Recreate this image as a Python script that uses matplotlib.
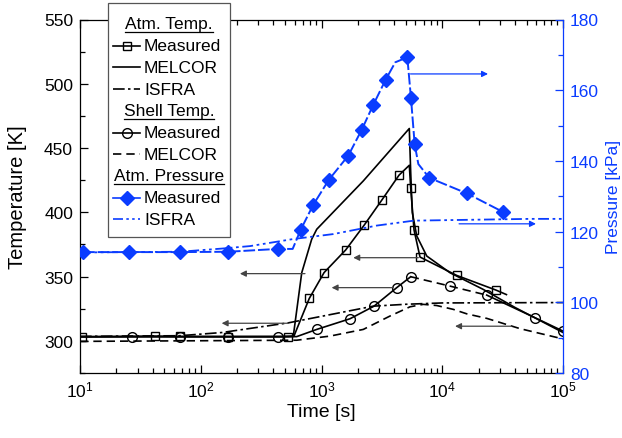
import matplotlib
matplotlib.use("Agg")
import matplotlib.pyplot as plt
from matplotlib.lines import Line2D
from matplotlib.patches import Rectangle
from matplotlib.ticker import MultipleLocator, LogLocator, NullFormatter

plt.rcParams['font.family'] = ['Liberation Sans', 'DejaVu Sans']
plt.rcParams['mathtext.fontset'] = 'custom'
plt.rcParams['mathtext.rm'] = 'Liberation Sans'
plt.rcParams['mathtext.it'] = 'Liberation Sans:italic'
plt.rcParams['font.size'] = 12.5

BLUE = '#0a3cff'
ARROW_GREY = '#444444'

# atmosphere temperature, measured (squares)
atm_meas_t = [10.3, 41.8, 67, 169, 531, 590, 792, 1050, 1585, 2260, 3152, 4385,
              5337, 5480, 5840, 6545, 13180, 27860, 34000]
atm_meas_T = [303.2, 303.7, 303.4, 303.3, 303.3, 303.5, 333.0, 353.1, 370.7, 390.1,
              409.4, 428.9, 436.6, 418.7, 386.2, 365.2, 350.9, 339.5, 336.0]
atm_meas_marks = [0, 1, 2, 3, 4, 6, 7, 8, 9, 10, 11, 13, 14, 15, 16, 17]

# atmosphere temperature, MELCOR
atm_mel_t = [10, 453, 584, 686, 829, 913, 2218, 5335, 5480, 5650, 6150, 7440,
             11590, 21880, 40000, 100000]
atm_mel_T = [303.2, 303.4, 303.7, 353.0, 379.0, 386.8, 424.4, 465.2, 431.0, 399.8,
             381.6, 366.0, 353.0, 340.0, 326.0, 306.5]

# atmosphere temperature, ISFRA
atm_isf_t = [10, 67, 150, 531, 623, 2687, 5080, 10000, 100000]
atm_isf_T = [303.5, 304.0, 306.5, 314.0, 315.3, 327.0, 328.5, 329.5, 329.8]

# shell temperature, measured (circles)
shell_meas_t = [10, 26.8, 67.3, 169, 438, 623, 913, 1722, 2723, 4198, 5480,
                11590, 23360, 58610, 100000]
shell_meas_T = [303.2, 303.2, 303.2, 303.2, 303.2, 303.3, 308.9, 317.2, 327.0,
                341.4, 349.9, 342.6, 335.6, 318.0, 307.6]

# shell temperature, MELCOR
shell_mel_t = [10, 623, 1175, 2218, 3690, 5407, 6970, 8990, 12340, 16000, 23360,
               44050, 100000]
shell_mel_T = [299.6, 300.5, 303.7, 308.9, 319.3, 326.5, 328.4, 327.5, 324.5,
               321.0, 317.5, 309.5, 301.5]

# atmosphere pressure, measured (diamonds)
p_meas_t = [10.6, 25.5, 67, 169, 434, 577, 672, 855, 1153, 1667, 2153, 2687, 3402,
            4085, 5137, 5510, 5910, 6340, 7810, 16030, 31680]
p_meas_P = [114.2, 114.2, 114.2, 114.3, 115.1, 115.1, 120.5, 127.6, 134.7, 141.5,
            148.8, 155.9, 163.0, 167.9, 169.3, 157.7, 144.7, 139.1, 135.2, 130.8, 125.6]
p_meas_marks = [0, 1, 2, 3, 4, 6, 7, 8, 9, 10, 11, 12, 14, 15, 16, 18, 19, 20]

# atmosphere pressure, ISFRA
p_isf_t = [10, 67, 150, 256, 584, 1253, 2866, 5820, 53300, 100000]
p_isf_P = [114.1, 114.3, 115.2, 115.9, 117.9, 119.3, 121.7, 123.1, 123.6, 123.6]

# arrows: (tail time, head time, value)
temp_arrows = [(6340, 1833, 364.7), (3937, 1213, 341.4), (37580, 12770, 311.4),
               (730, 211, 352.3), (531, 149, 313.7)]
press_arrows = [(5460, 23930, 164.6), (13780, 59700, 122.2)]

W, H = 622, 439
fig = plt.figure(figsize=(W / 100, H / 100), dpi=100)
ax = fig.add_axes([80 / W, 1 - 374 / H, 483 / W, 353.5 / H])
ax2 = ax.twinx()

lw = 1.2
sq = dict(marker='s', markersize=5.5, markerfacecolor='none', markeredgecolor='k',
          markeredgewidth=1.0)
ci = dict(marker='o', markersize=7, markerfacecolor='none', markeredgecolor='k',
          markeredgewidth=1.0)
dm = dict(marker='D', markersize=7.2, markerfacecolor=BLUE, markeredgecolor=BLUE)

ax.plot(atm_meas_t, atm_meas_T, color='k', lw=lw, markevery=atm_meas_marks, **sq)
ax.plot(atm_mel_t, atm_mel_T, color='k', lw=lw)
ax.plot(atm_isf_t, atm_isf_T, color='k', lw=lw, ls=(0, (7, 2, 1.5, 2)))
# shell measured: solid, dashed part after the peak
ax.plot(shell_meas_t[:11], shell_meas_T[:11], color='k', lw=lw,
        markevery=list(range(1, 5)) + list(range(6, 11)), **ci)
ax.plot(shell_meas_t[10:13], shell_meas_T[10:13], color='k', lw=lw, ls=(0, (5, 3)),
        markevery=[1, 2], **ci)
ax.plot(shell_meas_t[12:], shell_meas_T[12:], color='k', lw=lw, markevery=[1, 2], **ci)
ax.plot(shell_mel_t, shell_mel_T, color='k', lw=lw, ls=(0, (5, 3)))

for t0, t1, v in temp_arrows:
    ax.annotate('', xy=(t1, v), xytext=(t0, v),
                arrowprops=dict(arrowstyle='-|>', color=ARROW_GREY, lw=0.9,
                                mutation_scale=9, shrinkA=0, shrinkB=0))

ax2.plot(p_meas_t, p_meas_P, color=BLUE, lw=1.4, ls=(0, (6, 1.5)),
         markevery=p_meas_marks, **dm)
ax2.plot(p_isf_t, p_isf_P, color=BLUE, lw=1.3, ls=(0, (6, 2, 1.5, 2, 1.5, 2)))
for t0, t1, v in press_arrows:
    ax2.annotate('', xy=(t1, v), xytext=(t0, v),
                 arrowprops=dict(arrowstyle='-|>', color=BLUE, lw=0.9,
                                 mutation_scale=9, shrinkA=0, shrinkB=0))

ax.set_xscale('log')
ax.set_xlim(10, 1e5)
ax.set_ylim(275, 550)
ax2.set_ylim(80, 180)
ax.xaxis.set_major_locator(LogLocator(base=10, numticks=10))
ax.xaxis.set_minor_locator(LogLocator(base=10, subs=range(2, 10), numticks=20))
ax.xaxis.set_minor_formatter(NullFormatter())
ax.yaxis.set_major_locator(MultipleLocator(50))
ax.yaxis.set_minor_locator(MultipleLocator(25))
ax2.yaxis.set_major_locator(MultipleLocator(20))
ax2.yaxis.set_minor_locator(MultipleLocator(10))

ax.tick_params(which='both', direction='in', top=True, right=False, width=0.9)
ax.tick_params(which='major', length=6, pad=5)
ax.tick_params(which='minor', length=3.5)
ax2.tick_params(which='both', direction='in', colors=BLUE, width=0.9)
ax2.tick_params(which='major', length=6, pad=5)
ax2.tick_params(which='minor', length=3.5)
ax.spines['right'].set_visible(False)
ax2.spines['right'].set_color(BLUE)
ax2.spines['left'].set_visible(False)
ax2.spines['top'].set_visible(False)
ax2.spines['bottom'].set_visible(False)
for s in ['left', 'top', 'bottom']:
    ax.spines[s].set_linewidth(0.9)
ax2.spines['right'].set_linewidth(0.9)

ax.set_xlabel('Time [s]', fontsize=14)
ax.set_ylabel('Temperature [K]', fontsize=14.5)
ax2.set_ylabel('Pressure [kPa]', fontsize=12.5, color=BLUE)
ax.xaxis.set_label_coords(0.5, -0.085)
ax.yaxis.set_label_coords(-0.11, 0.5)
ax2.yaxis.set_label_coords(1.09, 0.5)


# legend drawn by hand (headers are underlined)
def fx(px):
    return px / W


def fy(py):
    return 1 - py / H


fig.add_artist(Rectangle((fx(108), fy(238)), fx(230) - fx(108), fy(4) - fy(238),
                         transform=fig.transFigure, facecolor='white',
                         edgecolor='#555555', lw=0.9, zorder=5))

rows = [
    ('Atm. Temp.', None),
    ('Measured', dict(color='k', ls='-', **sq)),
    ('MELCOR', dict(color='k', ls='-')),
    ('ISFRA', dict(color='k', ls=(0, (7, 2, 1.5, 2)))),
    ('Shell Temp.', None),
    ('Measured', dict(color='k', ls='-', **ci)),
    ('MELCOR', dict(color='k', ls=(0, (5, 3)))),
    ('Atm. Pressure', None),
    ('Measured', dict(color=BLUE, ls='-', **dm)),
    ('ISFRA', dict(color=BLUE, ls=(0, (6, 2, 1.5, 2, 1.5, 2)))),
]
headers = []
y0, dy = 25.0, 21.7
for i, (label, style) in enumerate(rows):
    y = y0 + i * dy
    if style is None:
        t = fig.text(fx(169), fy(y), label, ha='center', va='center', zorder=6)
        headers.append((t, y))
    else:
        fig.add_artist(Line2D([fx(113), fx(140)], [fy(y), fy(y)], lw=lw,
                              transform=fig.transFigure, zorder=6, markevery=[],
                              **style))
        if 'marker' in style:
            fig.add_artist(Line2D([fx(126.5)], [fy(y)], ls='none',
                                  transform=fig.transFigure, zorder=7,
                                  **{k: v for k, v in style.items() if k != 'ls'}))
        fig.text(fx(144), fy(y), label, ha='left', va='center', zorder=6)

fig.canvas.draw()
renderer = fig.canvas.get_renderer()
for t, y in headers:
    bb = t.get_window_extent(renderer)
    fig.add_artist(Line2D([bb.x0 / W, bb.x1 / W], [fy(y + 8), fy(y + 8)], color='k',
                          lw=0.9, transform=fig.transFigure, zorder=6))

fig.savefig('out.png', dpi=100)
